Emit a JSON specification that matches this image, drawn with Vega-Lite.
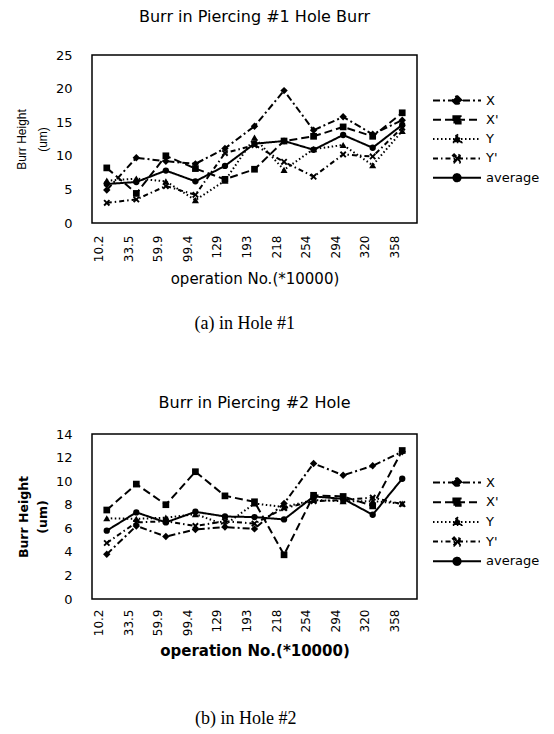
{
  "$schema": "https://vega.github.io/schema/vega-lite/v6.json",
  "padding": {"left": 14, "top": 8, "right": 5, "bottom": 5},
  "background": "white",
  "config": {
    "view": {"stroke": "black", "strokeWidth": 1.5},
    "axis": {"domain": false, "ticks": false, "grid": false, "labelColor": "black", "titleColor": "black"},
    "title": {"color": "black"},
    "point": {"filled": true, "color": "black", "opacity": 1, "size": 45}
  },
  "datasets": {
    "h1": [
      {"op":"10.2","s":"X","v":4.9},{"op":"33.5","s":"X","v":9.7},{"op":"59.9","s":"X","v":9.2},{"op":"99.4","s":"X","v":8.8},{"op":"129","s":"X","v":11.1},{"op":"193","s":"X","v":14.4},{"op":"218","s":"X","v":19.7},{"op":"254","s":"X","v":13.8},{"op":"294","s":"X","v":15.8},{"op":"320","s":"X","v":13.2},{"op":"358","s":"X","v":15.3},
      {"op":"10.2","s":"X'","v":8.2},{"op":"33.5","s":"X'","v":4.4},{"op":"59.9","s":"X'","v":10.0},{"op":"99.4","s":"X'","v":8.1},{"op":"129","s":"X'","v":6.5},{"op":"193","s":"X'","v":8.0},{"op":"218","s":"X'","v":12.2},{"op":"254","s":"X'","v":12.9},{"op":"294","s":"X'","v":14.3},{"op":"320","s":"X'","v":12.9},{"op":"358","s":"X'","v":16.4},
      {"op":"10.2","s":"Y","v":6.3},{"op":"33.5","s":"Y","v":6.6},{"op":"59.9","s":"Y","v":6.2},{"op":"99.4","s":"Y","v":3.4},{"op":"129","s":"Y","v":6.3},{"op":"193","s":"Y","v":12.7},{"op":"218","s":"Y","v":7.9},{"op":"254","s":"Y","v":11.0},{"op":"294","s":"Y","v":11.6},{"op":"320","s":"Y","v":8.6},{"op":"358","s":"Y","v":13.7},
      {"op":"10.2","s":"Y'","v":3.0},{"op":"33.5","s":"Y'","v":3.5},{"op":"59.9","s":"Y'","v":5.5},{"op":"99.4","s":"Y'","v":4.2},{"op":"129","s":"Y'","v":10.4},{"op":"193","s":"Y'","v":11.6},{"op":"218","s":"Y'","v":9.1},{"op":"254","s":"Y'","v":6.9},{"op":"294","s":"Y'","v":10.2},{"op":"320","s":"Y'","v":9.9},{"op":"358","s":"Y'","v":14.2},
      {"op":"10.2","s":"average","v":5.8},{"op":"33.5","s":"average","v":6.1},{"op":"59.9","s":"average","v":7.8},{"op":"99.4","s":"average","v":6.2},{"op":"129","s":"average","v":8.5},{"op":"193","s":"average","v":11.8},{"op":"218","s":"average","v":12.2},{"op":"254","s":"average","v":10.9},{"op":"294","s":"average","v":13.1},{"op":"320","s":"average","v":11.2},{"op":"358","s":"average","v":14.6}
    ],
    "h2": [
      {"op":"10.2","s":"X","v":3.8},{"op":"33.5","s":"X","v":6.2},{"op":"59.9","s":"X","v":5.3},{"op":"99.4","s":"X","v":5.9},{"op":"129","s":"X","v":6.1},{"op":"193","s":"X","v":5.95},{"op":"218","s":"X","v":8.1},{"op":"254","s":"X","v":11.5},{"op":"294","s":"X","v":10.5},{"op":"320","s":"X","v":11.3},{"op":"358","s":"X","v":12.5},
      {"op":"10.2","s":"X'","v":7.55},{"op":"33.5","s":"X'","v":9.75},{"op":"59.9","s":"X'","v":8.0},{"op":"99.4","s":"X'","v":10.8},{"op":"129","s":"X'","v":8.75},{"op":"193","s":"X'","v":8.25},{"op":"218","s":"X'","v":3.75},{"op":"254","s":"X'","v":8.8},{"op":"294","s":"X'","v":8.7},{"op":"320","s":"X'","v":7.9},{"op":"358","s":"X'","v":12.6},
      {"op":"10.2","s":"Y","v":6.85},{"op":"33.5","s":"Y","v":6.8},{"op":"59.9","s":"Y","v":6.9},{"op":"99.4","s":"Y","v":7.2},{"op":"129","s":"Y","v":6.3},{"op":"193","s":"Y","v":8.1},{"op":"218","s":"Y","v":7.8},{"op":"254","s":"Y","v":8.4},{"op":"294","s":"Y","v":8.3},{"op":"320","s":"Y","v":8.3},{"op":"358","s":"Y","v":8.1},
      {"op":"10.2","s":"Y'","v":4.75},{"op":"33.5","s":"Y'","v":6.5},{"op":"59.9","s":"Y'","v":6.6},{"op":"99.4","s":"Y'","v":6.2},{"op":"129","s":"Y'","v":6.6},{"op":"193","s":"Y'","v":6.4},{"op":"218","s":"Y'","v":7.7},{"op":"254","s":"Y'","v":8.3},{"op":"294","s":"Y'","v":8.4},{"op":"320","s":"Y'","v":8.6},{"op":"358","s":"Y'","v":8.05},
      {"op":"10.2","s":"average","v":5.8},{"op":"33.5","s":"average","v":7.35},{"op":"59.9","s":"average","v":6.5},{"op":"99.4","s":"average","v":7.4},{"op":"129","s":"average","v":7.0},{"op":"193","s":"average","v":6.95},{"op":"218","s":"average","v":6.75},{"op":"254","s":"average","v":8.7},{"op":"294","s":"average","v":8.5},{"op":"320","s":"average","v":7.15},{"op":"358","s":"average","v":10.2}
    ]
  },
  "spacing": 60,
  "resolve": {"scale": {"x": "independent", "y": "independent", "strokeDash": "independent", "strokeWidth": "independent"}, "legend": {"strokeDash": "independent", "strokeWidth": "independent"}},
  "vconcat": [
    {
      "title": {"text": "(a) in Hole #1", "orient": "bottom", "font": "Liberation Serif", "fontSize": 18, "fontWeight": "normal", "offset": 28, "anchor": "middle", "dx": -33},
      "resolve": {"scale": {"x": "independent", "y": "independent", "strokeDash": "independent", "strokeWidth": "independent"}, "legend": {"strokeDash": "independent", "strokeWidth": "independent"}},
      "vconcat": [
        {
          "title": {"text": "Burr in Piercing #1 Hole Burr", "font": "DejaVu Sans", "fontSize": 16, "fontWeight": "normal", "offset": 24, "anchor": "middle", "frame": "group"},
          "width": 325,
          "height": 168,
          "data": {"name": "h1"},
          "encoding": {
            "x": {"field": "op", "type": "ordinal", "sort": ["10.2","33.5","59.9","99.4","129","193","218","254","294","320","358"], "scale": {"type": "point", "padding": 0.5},
              "axis": {"title": "operation No.(*10000)", "labelAngle": -90, "labelFont": "DejaVu Sans", "labelFontSize": 12, "labelPadding": 12, "labelOffset": -8, "titleFont": "DejaVu Sans", "titleFontSize": 15, "titleFontWeight": "normal", "titlePadding": 10}},
            "y": {"field": "v", "type": "quantitative", "scale": {"domain": [0, 25], "nice": false},
              "axis": {"title": ["Burr Height", "(um)"], "values": [0,5,10,15,20,25], "labelFont": "DejaVu Sans", "labelFontSize": 13, "labelPadding": 20, "titleFont": "Liberation Sans", "titleFontSize": 12, "titleFontWeight": "normal", "titleLineHeight": 21, "titlePadding": 6}}
          },
          "layer": [
            {
              "mark": {"type": "line", "color": "black"},
              "encoding": {
                "strokeDash": {"field": "s", "type": "nominal", "scale": {"domain": ["X","X'","Y","Y'","average"], "range": [[7,3,2,3],[8,4],[1.5,2.5],[5,3,1.5,3],[1,0]]},
                  "legend": {"title": null, "orient": "none", "legendX": 340, "legendY": 38, "symbolSize": 2304, "symbolStrokeWidth": 1.5, "symbolStrokeColor": "black", "symbolFillColor": "black", "clipHeight": 15, "rowPadding": 4.3, "labelFont": "DejaVu Sans", "labelFontSize": 13, "labelColor": "black", "labelOffset": 4,
                    "encode": {"symbols": {"update": {"shape": {"signal": "datum.value === 'X' ? 'M-1,0H1M0,-0.2L0.2,0L0,0.2L-0.2,0Z' : datum.value === \"X'\" ? 'M-1,0H1M-0.15,-0.15H0.15V0.15H-0.15Z' : datum.value === 'Y' ? 'M-1,0H1M0,-0.2L0.18,0.13H-0.18Z' : datum.value === \"Y'\" ? 'M-1,0H1M-0.17,-0.12L-0.12,-0.17L0,-0.05L0.12,-0.17L0.17,-0.12L0.05,0L0.17,0.12L0.12,0.17L0,0.05L-0.12,0.17L-0.17,0.12L-0.05,0Z' : 'M-1,0H1M0.15,0A0.15,0.15,0,1,1,-0.15,0A0.15,0.15,0,1,1,0.15,0Z'"}, "fill": {"value": "black"}, "stroke": {"value": "black"}}}}}},
                "strokeWidth": {"field": "s", "type": "nominal", "scale": {"domain": ["X","X'","Y","Y'","average"], "range": [2,2,1.3,1.5,1]}, "legend": null}
              }
            },
            {"transform": [{"filter": "datum.s === 'X'"}], "mark": {"type": "point", "shape": "diamond", "size": 55}},
            {"transform": [{"filter": "datum.s === \"X'\""}], "mark": {"type": "point", "shape": "square", "size": 45}},
            {"transform": [{"filter": "datum.s === 'Y'"}], "mark": {"type": "point", "shape": "triangle-up", "size": 50}},
            {"transform": [{"filter": "datum.s === \"Y'\""}], "mark": {"type": "point", "shape": "M-1,-0.6L-0.6,-1L0,-0.4L0.6,-1L1,-0.6L0.4,0L1,0.6L0.6,1L0,0.4L-0.6,1L-1,0.6L-0.4,0Z", "size": 45}},
            {"transform": [{"filter": "datum.s === 'average'"}], "mark": {"type": "point", "shape": "circle", "size": 40}}
          ]
        }
      ]
    },
    {
      "title": {"text": "(b) in Hole #2", "orient": "bottom", "font": "Liberation Serif", "fontSize": 18, "fontWeight": "normal", "offset": 51, "anchor": "middle", "dx": -33},
      "resolve": {"scale": {"x": "independent", "y": "independent", "strokeDash": "independent", "strokeWidth": "independent"}, "legend": {"strokeDash": "independent", "strokeWidth": "independent"}},
      "vconcat": [
        {
          "title": {"text": "Burr in Piercing #2 Hole", "font": "DejaVu Sans", "fontSize": 16, "fontWeight": "normal", "offset": 17, "anchor": "middle", "frame": "group"},
          "width": 325,
          "height": 165,
          "data": {"name": "h2"},
          "encoding": {
            "x": {"field": "op", "type": "ordinal", "sort": ["10.2","33.5","59.9","99.4","129","193","218","254","294","320","358"], "scale": {"type": "point", "padding": 0.5},
              "axis": {"title": "operation No.(*10000)", "labelAngle": -90, "labelFont": "DejaVu Sans", "labelFontSize": 12, "labelPadding": 10, "labelOffset": -8, "titleFont": "DejaVu Sans", "titleFontSize": 15, "titleFontWeight": "bold", "titlePadding": 8}},
            "y": {"field": "v", "type": "quantitative", "scale": {"domain": [0, 14], "nice": false},
              "axis": {"title": ["Burr Height", "(um)"], "values": [0,2,4,6,8,10,12,14], "labelFont": "DejaVu Sans", "labelFontSize": 13, "labelPadding": 20, "titleFont": "DejaVu Sans", "titleFontSize": 12.5, "titleFontWeight": "bold", "titleLineHeight": 19, "titlePadding": 6}}
          },
          "layer": [
            {
              "mark": {"type": "line", "color": "black"},
              "encoding": {
                "strokeDash": {"field": "s", "type": "nominal", "scale": {"domain": ["X","X'","Y","Y'","average"], "range": [[7,3,2,3],[8,4],[1.5,2.5],[5,3,1.5,3],[1,0]]},
                  "legend": {"title": null, "orient": "none", "legendX": 340, "legendY": 41, "symbolSize": 2304, "symbolStrokeWidth": 1.5, "symbolStrokeColor": "black", "symbolFillColor": "black", "clipHeight": 15, "rowPadding": 4.7, "labelFont": "DejaVu Sans", "labelFontSize": 13, "labelColor": "black", "labelOffset": 4,
                    "encode": {"symbols": {"update": {"shape": {"signal": "datum.value === 'X' ? 'M-1,0H1M0,-0.2L0.2,0L0,0.2L-0.2,0Z' : datum.value === \"X'\" ? 'M-1,0H1M-0.15,-0.15H0.15V0.15H-0.15Z' : datum.value === 'Y' ? 'M-1,0H1M0,-0.2L0.18,0.13H-0.18Z' : datum.value === \"Y'\" ? 'M-1,0H1M-0.17,-0.12L-0.12,-0.17L0,-0.05L0.12,-0.17L0.17,-0.12L0.05,0L0.17,0.12L0.12,0.17L0,0.05L-0.12,0.17L-0.17,0.12L-0.05,0Z' : 'M-1,0H1M0.15,0A0.15,0.15,0,1,1,-0.15,0A0.15,0.15,0,1,1,0.15,0Z'"}, "fill": {"value": "black"}, "stroke": {"value": "black"}}}}}},
                "strokeWidth": {"field": "s", "type": "nominal", "scale": {"domain": ["X","X'","Y","Y'","average"], "range": [2,2,1.3,1.5,1]}, "legend": null}
              }
            },
            {"transform": [{"filter": "datum.s === 'X'"}], "mark": {"type": "point", "shape": "diamond", "size": 55}},
            {"transform": [{"filter": "datum.s === \"X'\""}], "mark": {"type": "point", "shape": "square", "size": 45}},
            {"transform": [{"filter": "datum.s === 'Y'"}], "mark": {"type": "point", "shape": "triangle-up", "size": 50}},
            {"transform": [{"filter": "datum.s === \"Y'\""}], "mark": {"type": "point", "shape": "M-1,-0.6L-0.6,-1L0,-0.4L0.6,-1L1,-0.6L0.4,0L1,0.6L0.6,1L0,0.4L-0.6,1L-1,0.6L-0.4,0Z", "size": 45}},
            {"transform": [{"filter": "datum.s === 'average'"}], "mark": {"type": "point", "shape": "circle", "size": 40}}
          ]
        }
      ]
    }
  ]
}
